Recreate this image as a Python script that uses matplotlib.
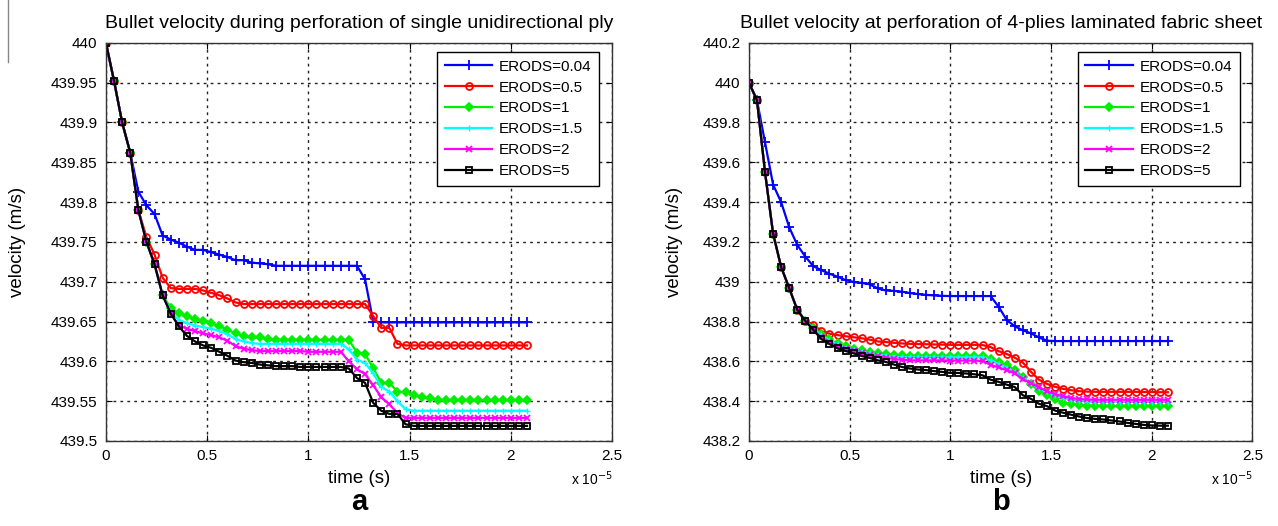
import matplotlib
matplotlib.use("Agg")
import matplotlib.pyplot as plt
from matplotlib.lines import Line2D
from matplotlib.ticker import FormatStrFormatter, MultipleLocator

plt.rcParams['font.family'] = ['Liberation Sans', 'DejaVu Sans']

# time in units of 1e-5 s, one sample every 0.04
time = [0.00, 0.04, 0.08, 0.12, 0.16, 0.20, 0.24, 0.28, 0.32, 0.36,
        0.40, 0.44, 0.48, 0.52, 0.56, 0.60, 0.64, 0.68, 0.72, 0.76,
        0.80, 0.84, 0.88, 0.92, 0.96, 1.00, 1.04, 1.08, 1.12, 1.16,
        1.20, 1.24, 1.28, 1.32, 1.36, 1.40, 1.44, 1.48, 1.52, 1.56,
        1.60, 1.64, 1.68, 1.72, 1.76, 1.80, 1.84, 1.88, 1.92, 1.96,
        2.00, 2.04, 2.08]

labels = ['ERODS=0.04', 'ERODS=0.5', 'ERODS=1', 'ERODS=1.5', 'ERODS=2', 'ERODS=5']

# panel a : single unidirectional ply
a_004 = [440, 439.952, 439.9, 439.862, 439.813, 439.796, 439.785, 439.758, 439.753, 439.749,
         439.744, 439.740, 439.740, 439.737, 439.734, 439.731, 439.727, 439.727, 439.724, 439.723,
         439.722, 439.720, 439.720, 439.720, 439.720, 439.720, 439.720, 439.720, 439.720, 439.720,
         439.720, 439.720, 439.703, 439.650, 439.649, 439.649, 439.649, 439.649, 439.649, 439.649,
         439.649, 439.649, 439.649, 439.649, 439.649, 439.649, 439.649, 439.649, 439.649, 439.649,
         439.649, 439.649, 439.649]
a_05 = [440, 439.952, 439.9, 439.862, 439.79, 439.756, 439.734, 439.705, 439.692, 439.691,
        439.691, 439.691, 439.689, 439.686, 439.683, 439.679, 439.674, 439.672, 439.672, 439.672,
        439.672, 439.672, 439.672, 439.672, 439.672, 439.672, 439.672, 439.672, 439.672, 439.672,
        439.672, 439.672, 439.672, 439.657, 439.642, 439.642, 439.622, 439.620, 439.620, 439.620,
        439.620, 439.620, 439.620, 439.620, 439.620, 439.620, 439.620, 439.620, 439.620, 439.620,
        439.620, 439.620, 439.620]
a_1 = [440, 439.952, 439.9, 439.862, 439.79, 439.75, 439.722, 439.683, 439.667, 439.661,
       439.657, 439.653, 439.651, 439.648, 439.644, 439.640, 439.635, 439.632, 439.630, 439.630,
       439.628, 439.627, 439.627, 439.627, 439.627, 439.627, 439.627, 439.627, 439.627, 439.627,
       439.627, 439.611, 439.609, 439.592, 439.573, 439.573, 439.562, 439.561, 439.558, 439.555,
       439.554, 439.552, 439.551, 439.551, 439.551, 439.551, 439.551, 439.551, 439.551, 439.551,
       439.551, 439.551, 439.551]
a_15 = [440, 439.952, 439.9, 439.862, 439.79, 439.75, 439.722, 439.683, 439.662, 439.652,
        439.648, 439.645, 439.643, 439.641, 439.638, 439.634, 439.628, 439.625, 439.623, 439.622,
        439.622, 439.622, 439.622, 439.622, 439.622, 439.622, 439.622, 439.622, 439.622, 439.622,
        439.615, 439.602, 439.598, 439.585, 439.568, 439.562, 439.550, 439.540, 439.538, 439.538,
        439.538, 439.538, 439.538, 439.538, 439.538, 439.538, 439.538, 439.538, 439.538, 439.538,
        439.538, 439.538, 439.538]
a_2 = [440, 439.952, 439.9, 439.862, 439.79, 439.75, 439.722, 439.683, 439.660, 439.645,
       439.641, 439.638, 439.635, 439.633, 439.630, 439.626, 439.619, 439.616, 439.614, 439.613,
       439.613, 439.613, 439.613, 439.613, 439.613, 439.612, 439.612, 439.612, 439.612, 439.612,
       439.600, 439.590, 439.584, 439.570, 439.555, 439.546, 439.535, 439.529, 439.529, 439.529,
       439.529, 439.529, 439.529, 439.529, 439.529, 439.529, 439.529, 439.529, 439.529, 439.529,
       439.529, 439.529, 439.529]
a_5 = [440, 439.952, 439.9, 439.862, 439.79, 439.75, 439.722, 439.683, 439.660, 439.644,
       439.632, 439.625, 439.620, 439.617, 439.612, 439.607, 439.601, 439.599, 439.598, 439.596,
       439.595, 439.594, 439.594, 439.594, 439.593, 439.593, 439.593, 439.593, 439.593, 439.593,
       439.591, 439.579, 439.573, 439.548, 439.538, 439.534, 439.534, 439.521, 439.519, 439.519,
       439.519, 439.519, 439.519, 439.519, 439.519, 439.519, 439.519, 439.519, 439.519, 439.519,
       439.519, 439.519, 439.519]

# panel b : 4-plies laminated fabric sheet
b_004 = [440, 439.912, 439.70, 439.488, 439.40, 439.274, 439.185, 439.126, 439.078, 439.058,
         439.040, 439.025, 439.008, 438.999, 438.994, 438.987, 438.966, 438.956, 438.954, 438.950,
         438.943, 438.938, 438.934, 438.931, 438.929, 438.928, 438.928, 438.928, 438.928, 438.928,
         438.928, 438.874, 438.808, 438.776, 438.756, 438.741, 438.720, 438.704, 438.702, 438.702,
         438.702, 438.702, 438.702, 438.702, 438.702, 438.702, 438.702, 438.702, 438.702, 438.702,
         438.702, 438.702, 438.702]
b_05 = [440, 439.912, 439.55, 439.242, 439.074, 438.968, 438.859, 438.803, 438.785, 438.752,
        438.739, 438.732, 438.726, 438.721, 438.716, 438.709, 438.700, 438.697, 438.693, 438.690,
        438.688, 438.687, 438.686, 438.685, 438.684, 438.683, 438.683, 438.683, 438.683, 438.682,
        438.672, 438.651, 438.637, 438.619, 438.594, 438.548, 438.508, 438.487, 438.472, 438.462,
        438.455, 438.450, 438.448, 438.447, 438.447, 438.447, 438.447, 438.447, 438.447, 438.446,
        438.446, 438.445, 438.445]
b_1 = [440, 439.912, 439.55, 439.242, 439.074, 438.968, 438.859, 438.803, 438.770, 438.735,
       438.710, 438.690, 438.675, 438.664, 438.655, 438.646, 438.640, 438.635, 438.632, 438.630,
       438.628, 438.628, 438.628, 438.628, 438.628, 438.627, 438.627, 438.627, 438.627, 438.627,
       438.612, 438.598, 438.580, 438.558, 438.522, 438.485, 438.452, 438.430, 438.410, 438.393,
       438.386, 438.381, 438.378, 438.376, 438.375, 438.375, 438.375, 438.375, 438.375, 438.375,
       438.375, 438.375, 438.375]
b_15 = [440, 439.912, 439.55, 439.242, 439.074, 438.968, 438.859, 438.803, 438.765, 438.730,
        438.705, 438.685, 438.668, 438.657, 438.648, 438.640, 438.634, 438.628, 438.624, 438.621,
        438.620, 438.620, 438.620, 438.620, 438.620, 438.620, 438.620, 438.620, 438.620, 438.620,
        438.605, 438.588, 438.568, 438.546, 438.515, 438.490, 438.465, 438.445, 438.430, 438.416,
        438.408, 438.403, 438.400, 438.398, 438.398, 438.398, 438.398, 438.398, 438.398, 438.398,
        438.398, 438.398, 438.398]
b_2 = [440, 439.912, 439.55, 439.242, 439.074, 438.968, 438.859, 438.803, 438.760, 438.720,
       438.695, 438.675, 438.660, 438.650, 438.640, 438.632, 438.625, 438.618, 438.612, 438.608,
       438.605, 438.605, 438.605, 438.605, 438.605, 438.604, 438.604, 438.604, 438.603, 438.603,
       438.582, 438.570, 438.555, 438.540, 438.510, 438.490, 438.470, 438.450, 438.435, 438.425,
       438.416, 438.411, 438.409, 438.407, 438.407, 438.407, 438.407, 438.407, 438.407, 438.407,
       438.407, 438.407, 438.407]
b_5 = [440, 439.912, 439.55, 439.242, 439.074, 438.968, 438.859, 438.803, 438.758, 438.711,
       438.687, 438.665, 438.652, 438.640, 438.627, 438.617, 438.605, 438.597, 438.584, 438.572,
       438.564, 438.559, 438.556, 438.551, 438.547, 438.542, 438.542, 438.539, 438.535, 438.530,
       438.508, 438.497, 438.483, 438.471, 438.430, 438.412, 438.387, 438.375, 438.353, 438.342,
       438.332, 438.323, 438.315, 438.311, 438.308, 438.303, 438.298, 438.291, 438.286, 438.281,
       438.278, 438.277, 438.277]

titles = ['Bullet velocity during perforation of single unidirectional ply',
          'Bullet velocity at perforation of 4-plies laminated fabric sheet']

# matlab-ish line styles for each ERODS value
styles = [dict(color='#0000ff', marker='+', ms=7, mew=1.3),
          dict(color='#ff0000', marker='o', ms=5, mfc='none', mew=1.3),
          dict(color='#00ee00', marker='D', ms=3.8, mew=1.2),
          dict(color='#00ffff', marker='+', ms=4, mew=1.0),
          dict(color='#ff00ff', marker='x', ms=4, mew=1.3),
          dict(color='#000000', marker='s', ms=5, mfc='none', mew=1.3)]


def draw_panel(ax, series, ylim, ystep, title, ylab_x, letter):
    for vals, lab, st in zip(series, labels, styles):
        ax.plot(time, vals, lw=1.6, label=lab, **st)
    ax.set_xlim(0, 2.5)
    ax.set_ylim(*ylim)
    ax.xaxis.set_major_locator(MultipleLocator(0.5))
    ax.yaxis.set_major_locator(MultipleLocator(ystep))
    ax.xaxis.set_major_formatter(FormatStrFormatter('%g'))
    ax.yaxis.set_major_formatter(FormatStrFormatter('%g'))
    ax.grid(True, color='#222222', linestyle=(0, (2, 3)), linewidth=1.0)
    ax.tick_params(direction='in', length=4, top=True, right=True, labelsize=11, pad=6)
    for sp in ax.spines.values():
        sp.set_linewidth(1.0)
        sp.set_color('#333333')
    ax.set_title(title, fontsize=14, pad=11)
    ax.set_xlabel('time (s)', fontsize=13.5)
    ax.xaxis.set_label_coords(0.5, -0.072)
    ax.set_ylabel('velocity (m/s)', fontsize=13.5)
    ax.yaxis.set_label_coords(ylab_x, 0.5)
    ax.text(0.918, -0.095, r'x 10$^{-5}$', transform=ax.transAxes, fontsize=10,
            va='center', ha='left')
    ax.text(0.5, -0.152, letter, transform=ax.transAxes, fontsize=21, fontweight='bold',
            ha='center', va='center')
    leg = ax.legend(loc='upper right', bbox_to_anchor=(0.99, 0.996), fontsize=11,
                    fancybox=False, framealpha=1, edgecolor='black', handlelength=3.1,
                    labelspacing=0.45, borderpad=0.5, handletextpad=0.45)
    leg.get_frame().set_linewidth(1.0)


fig = plt.figure(figsize=(12.78, 5.26), dpi=100)
ax1 = fig.add_axes([0.0829, 0.1616, 0.396, 0.757])
ax2 = fig.add_axes([0.586, 0.1616, 0.394, 0.757])

draw_panel(ax1, [a_004, a_05, a_1, a_15, a_2, a_5], (439.5, 440.0), 0.05,
           titles[0], -0.158, 'a')
draw_panel(ax2, [b_004, b_05, b_1, b_15, b_2, b_5], (438.2, 440.2), 0.2,
           titles[1], -0.131, 'b')

# faint scan edge on the far left
fig.add_artist(Line2D([8 / 1278, 8 / 1278], [1.0, 1 - 62 / 526], color='#888888', lw=1))

fig.savefig('out.png', dpi=100)
